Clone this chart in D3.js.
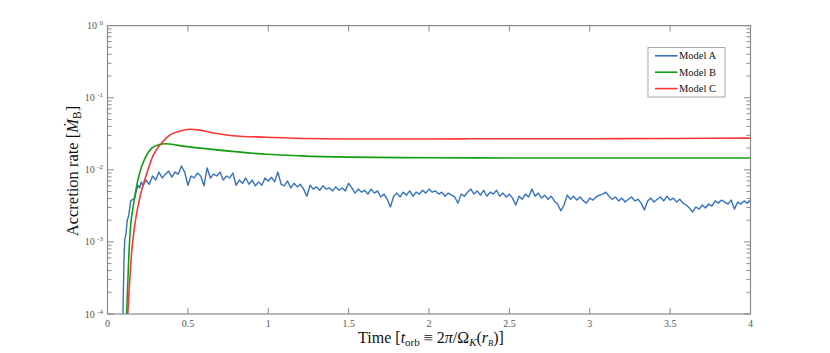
<!DOCTYPE html>
<html>
<head>
<meta charset="utf-8">
<script src="https://cdn.jsdelivr.net/npm/d3@7"></script>
<style>
  body { margin: 0; background: #fff; }
  svg text { font-family: "Liberation Serif", "DejaVu Serif", serif; }
</style>
</head>
<body>
<div id="chart"></div>
<script>
/// DATA ///
// Model A, steep initial rise (time, rate)
const timeA_rise = [0.090, 0.096, 0.102, 0.107, 0.115, 0.123, 0.132, 0.144, 0.158, 0.170, 0.180, 0.190, 0.200, 0.210];
const rateA_rise = [5e-5, 1e-4, 5e-4, 1.05e-3, 1.3e-3, 2.0e-3, 2.3e-3, 3.7e-3, 3.9e-3, 4.1e-3, 5.2e-3, 6.1e-3, 5.6e-3, 6.8e-3];

// Model A, sampled every 0.02 t_orb starting at t = 0.22
const rateA = [
  6.0e-3, 7.2e-3, 6.3e-3, 8.2e-3, 7.2e-3, 9.3e-3, 7.7e-3, 8.7e-3, 9.6e-3, 7.9e-3,
  9.3e-3, 8.7e-3, 11.3e-3, 9.3e-3, 6.1e-3, 8.2e-3, 7.7e-3, 9.0e-3, 8.2e-3, 6.0e-3,
  10.6e-3, 7.7e-3, 8.7e-3, 8.2e-3, 9.3e-3, 7.2e-3, 8.2e-3, 7.7e-3, 9.0e-3, 6.1e-3,
  7.2e-3, 6.5e-3, 7.7e-3, 6.3e-3, 7.2e-3, 6.0e-3, 6.8e-3, 6.1e-3, 7.7e-3, 7.0e-3,
  // t = 1.02 .. 2.00
  7.9e-3, 6.8e-3, 9.3e-3, 6.3e-3, 6.0e-3, 7.0e-3, 5.6e-3, 6.5e-3, 5.8e-3, 6.3e-3,
  5.4e-3, 4.3e-3, 6.1e-3, 5.4e-3, 5.8e-3, 5.2e-3, 6.0e-3, 5.4e-3, 5.6e-3, 5.1e-3,
  5.8e-3, 5.2e-3, 5.6e-3, 5.1e-3, 6.5e-3, 5.6e-3, 4.75e-3, 5.4e-3, 4.9e-3, 5.2e-3,
  4.6e-3, 5.4e-3, 4.75e-3, 5.1e-3, 4.2e-3, 4.6e-3, 3.9e-3, 3.05e-3, 4.3e-3, 4.75e-3,
  4.2e-3, 4.9e-3, 4.45e-3, 5.1e-3, 4.3e-3, 4.9e-3, 4.6e-3, 5.2e-3, 4.75e-3, 5.4e-3,
  // t = 2.02 .. 3.00
  4.9e-3, 5.1e-3, 4.6e-3, 4.9e-3, 4.3e-3, 4.75e-3, 4.45e-3, 4.2e-3, 3.45e-3, 4.6e-3,
  4.3e-3, 4.9e-3, 5.4e-3, 4.6e-3, 5.1e-3, 4.45e-3, 5.2e-3, 4.3e-3, 4.9e-3, 4.6e-3,
  5.2e-3, 4.3e-3, 4.75e-3, 4.2e-3, 4.6e-3, 4.05e-3, 3.25e-3, 4.3e-3, 3.9e-3, 4.6e-3,
  4.2e-3, 5.4e-3, 4.3e-3, 4.75e-3, 4.05e-3, 4.45e-3, 3.9e-3, 4.3e-3, 3.7e-3, 3.35e-3,
  2.7e-3, 3.25e-3, 4.45e-3, 3.9e-3, 4.3e-3, 3.8e-3, 4.2e-3, 3.7e-3, 3.45e-3, 4.05e-3,
  // t = 3.02 .. 4.00
  3.8e-3, 4.2e-3, 4.45e-3, 4.6e-3, 4.9e-3, 4.3e-3, 3.9e-3, 4.2e-3, 3.7e-3, 4.05e-3,
  3.57e-3, 3.9e-3, 4.2e-3, 3.7e-3, 3.9e-3, 3.45e-3, 2.77e-3, 3.7e-3, 4.05e-3, 3.57e-3,
  3.9e-3, 4.2e-3, 3.7e-3, 4.3e-3, 3.8e-3, 4.05e-3, 3.57e-3, 3.9e-3, 3.45e-3, 3.25e-3,
  2.95e-3, 2.6e-3, 3.05e-3, 2.85e-3, 3.25e-3, 2.95e-3, 3.35e-3, 3.14e-3, 3.7e-3, 3.45e-3,
  3.8e-3, 3.57e-3, 3.35e-3, 3.8e-3, 2.85e-3, 3.57e-3, 3.35e-3, 3.7e-3, 3.45e-3, 3.8e-3,
];

// Model B
const timeB = [0.110, 0.119, 0.130, 0.140, 0.160, 0.180, 0.202, 0.233, 0.275, 0.316, 0.368, 0.430, 0.575, 0.780, 0.990, 1.200, 1.500, 2.000, 2.500, 3.000, 3.500, 4.000];
const rateB = [5e-5, 1e-4, 4.6e-4, 1.3e-3, 3.1e-3, 5.8e-3, 9.4e-3, 1.44e-2, 2.0e-2, 2.22e-2, 2.3e-2, 2.2e-2, 2.0e-2, 1.8e-2, 1.64e-2, 1.56e-2, 1.5e-2, 1.47e-2, 1.46e-2, 1.46e-2, 1.46e-2, 1.46e-2];

// Model C
const timeC = [0.118, 0.126, 0.136, 0.150, 0.171, 0.202, 0.244, 0.285, 0.337, 0.389, 0.451, 0.513, 0.575, 0.630, 0.680, 0.780, 0.990, 1.200, 1.500, 2.000, 2.500, 3.000, 3.500, 4.000];
const rateC = [5e-5, 1e-4, 2.4e-4, 7.0e-4, 1.8e-3, 4.2e-3, 8.9e-3, 1.6e-2, 2.36e-2, 3.05e-2, 3.45e-2, 3.65e-2, 3.55e-2, 3.35e-2, 3.18e-2, 2.97e-2, 2.83e-2, 2.72e-2, 2.68e-2, 2.68e-2, 2.7e-2, 2.7e-2, 2.72e-2, 2.75e-2];

const xTicks = [0, 0.5, 1, 1.5, 2, 2.5, 3, 3.5, 4];
const yExponents = [-4, -3, -2, -1, 0];
const modelNames = ["Model A", "Model B", "Model C"];
const modelColors = ["#3571c1", "#119e11", "#ff3535"];

/// LAYOUT ///
const W = 830, H = 353;
const plotLeft = 107.5, plotRight = 750.5, plotTop = 25.6, plotBottom = 314;
const axisColor = "#8a8a8a";

const svg = d3.select("#chart").append("svg")
  .attr("width", W).attr("height", H);

const x = d3.scaleLinear().domain([0, 4]).range([plotLeft, plotRight]);
const y = d3.scaleLog().domain([1e-4, 1]).range([plotBottom, plotTop]);

svg.append("clipPath").attr("id", "plotclip")
  .append("rect")
  .attr("x", plotLeft).attr("y", plotTop)
  .attr("width", plotRight - plotLeft).attr("height", plotBottom - plotTop);

// series as point lists
const seriesA = timeA_rise.map((t, i) => [t, rateA_rise[i]])
  .concat(rateA.map((v, i) => [0.22 + 0.02 * i, v]));
const seriesB = timeB.map((t, i) => [t, rateB[i]]);
const seriesC = timeC.map((t, i) => [t, rateC[i]]);

const lineSharp = d3.line().x(d => x(d[0])).y(d => y(d[1]));
const lineSmooth = d3.line().x(d => x(d[0])).y(d => y(d[1])).curve(d3.curveMonotoneX);

const plot = svg.append("g").attr("clip-path", "url(#plotclip)");

plot.append("path").datum(seriesA)
  .attr("d", lineSharp)
  .attr("fill", "none").attr("stroke", modelColors[0])
  .attr("stroke-width", 1.4).attr("stroke-linejoin", "round");

plot.append("path").datum(seriesB)
  .attr("d", lineSmooth)
  .attr("fill", "none").attr("stroke", modelColors[1])
  .attr("stroke-width", 1.6);

plot.append("path").datum(seriesC)
  .attr("d", lineSmooth)
  .attr("fill", "none").attr("stroke", modelColors[2])
  .attr("stroke-width", 1.6);

/// AXES (box with inward ticks on all sides) ///
const axes = svg.append("g").attr("stroke", axisColor).attr("fill", "none");

axes.append("rect")
  .attr("x", plotLeft).attr("y", plotTop)
  .attr("width", plotRight - plotLeft).attr("height", plotBottom - plotTop)
  .attr("stroke-width", 1.2);

// x ticks
xTicks.forEach(t => {
  axes.append("line")
    .attr("x1", x(t)).attr("x2", x(t))
    .attr("y1", plotBottom).attr("y2", plotBottom - 6);
  axes.append("line")
    .attr("x1", x(t)).attr("x2", x(t))
    .attr("y1", plotTop).attr("y2", plotTop + 6);
});

// y ticks, major and minor
yExponents.forEach(e => {
  const major = Math.pow(10, e);
  [plotLeft, plotRight].forEach((sx, s) => {
    const dir = s === 0 ? 1 : -1;
    axes.append("line")
      .attr("x1", sx).attr("x2", sx + dir * 6.5)
      .attr("y1", y(major)).attr("y2", y(major));
    if (e < 0) {
      d3.range(2, 10).forEach(m => {
        axes.append("line")
          .attr("x1", sx).attr("x2", sx + dir * 4)
          .attr("y1", y(m * major)).attr("y2", y(m * major));
      });
    }
  });
});

// x tick labels
svg.selectAll(".xlab").data(xTicks).enter().append("text")
  .attr("class", "xlab")
  .attr("x", d => x(d)).attr("y", 327)
  .attr("text-anchor", "middle")
  .attr("font-size", 10).attr("fill", "#555")
  .text(d => d);

// y tick labels: 10^e
yExponents.forEach(e => {
  const t = svg.append("text")
    .attr("x", 103).attr("y", y(Math.pow(10, e)) + 3.5)
    .attr("text-anchor", "end")
    .attr("font-size", 10).attr("fill", "#555");
  t.append("tspan").text("10 ");
  t.append("tspan").attr("font-size", 7).attr("dy", -4)
    .text(e === 0 ? "0" : "-" + Math.abs(e));
});

/// AXIS TITLES ///
const xt = svg.append("text")
  .attr("x", 431).attr("y", 343)
  .attr("text-anchor", "middle")
  .attr("font-size", 16).attr("fill", "#111");
xt.append("tspan").text("Time [");
xt.append("tspan").attr("font-style", "italic").text("t");
xt.append("tspan").attr("font-size", 11).attr("dy", 2.5).text("orb");
xt.append("tspan").attr("dy", -2.5).text(" \u2261 2");
xt.append("tspan").attr("font-style", "italic").text("\u03c0");
xt.append("tspan").text("/\u03a9");
xt.append("tspan").attr("font-style", "italic").attr("font-size", 11).attr("dy", 2.5).text("K");
xt.append("tspan").attr("dy", -2.5).text("(");
xt.append("tspan").attr("font-style", "italic").text("r");
xt.append("tspan").attr("font-style", "italic").attr("font-size", 8.5).attr("dy", 2.5).text("B");
xt.append("tspan").attr("dy", -2.5).text(")]");

const yt = svg.append("text")
  .attr("transform", `translate(78, 171) rotate(-90)`)
  .attr("text-anchor", "middle")
  .attr("font-size", 16.5).attr("fill", "#111");
yt.append("tspan").text("Accretion rate [");
yt.append("tspan").attr("font-style", "italic").text("\u1e40");
yt.append("tspan").attr("font-size", 11.5).attr("dy", 3).text("B");
yt.append("tspan").attr("dy", -3).text("]");

/// LEGEND ///
const legend = svg.append("g").attr("transform", "translate(648, 47.5)");
legend.append("rect")
  .attr("width", 77).attr("height", 49.5)
  .attr("fill", "#fff").attr("stroke", "#aaa").attr("stroke-width", 1);

modelNames.forEach((name, i) => {
  const ly = 8.3 + i * 16.4;
  legend.append("line")
    .attr("x1", 7).attr("x2", 29.5)
    .attr("y1", ly).attr("y2", ly)
    .attr("stroke", modelColors[i]).attr("stroke-width", 1.6);
  legend.append("text")
    .attr("x", 31).attr("y", ly + 3.6)
    .attr("font-size", 10.5).attr("fill", "#111")
    .text(name);
});
</script>
</body>
</html>
